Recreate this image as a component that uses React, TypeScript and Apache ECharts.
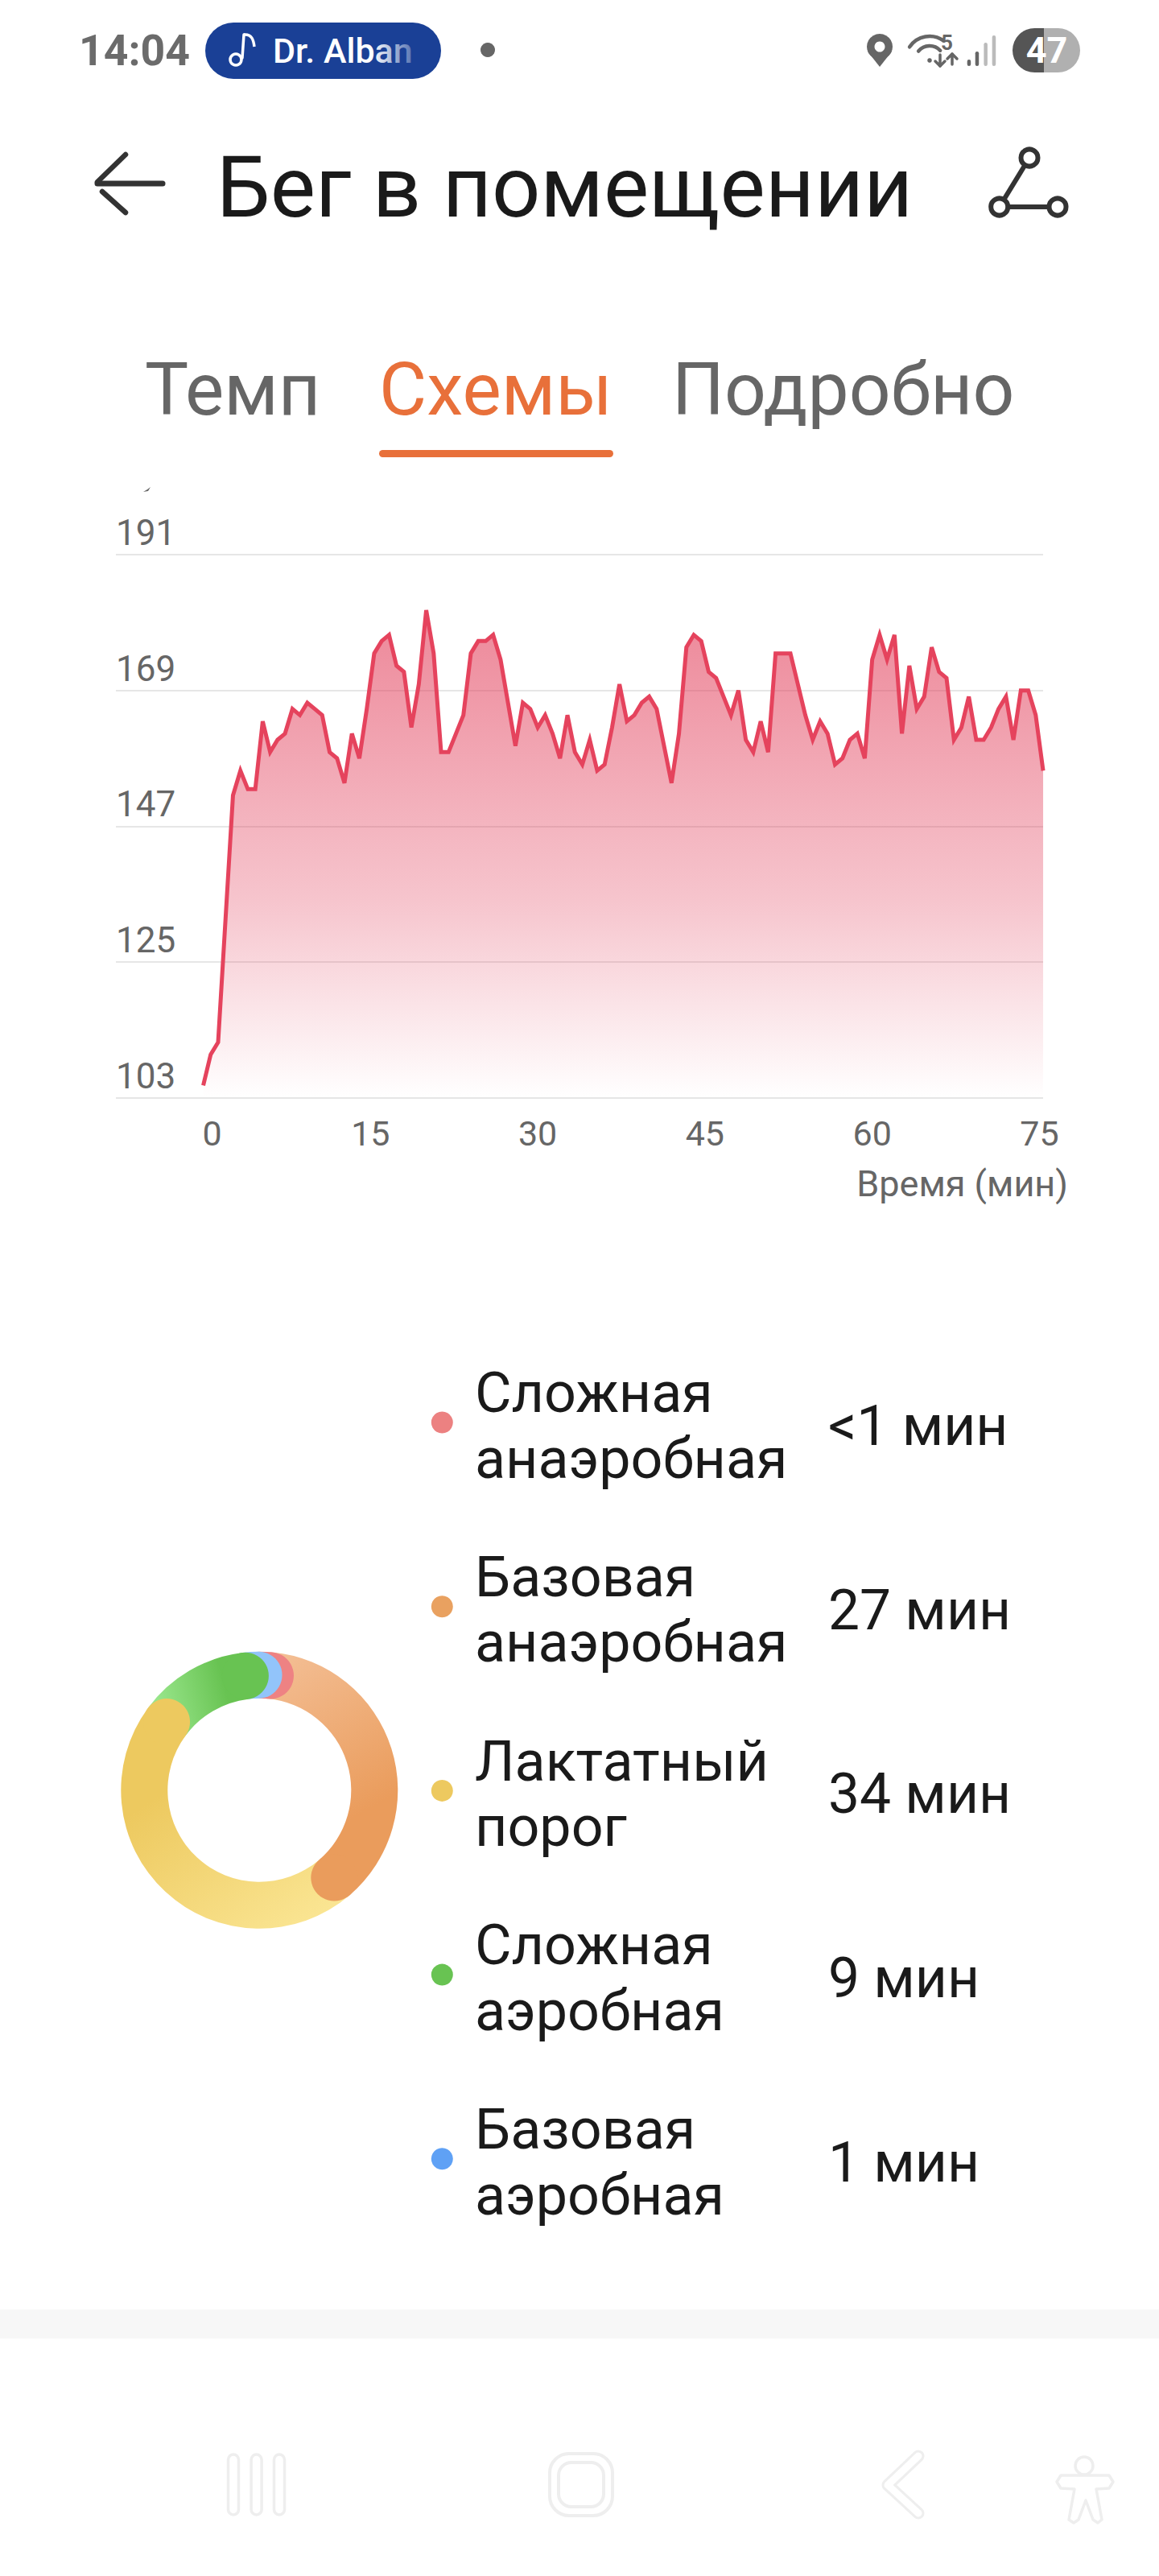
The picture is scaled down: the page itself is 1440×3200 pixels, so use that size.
import React, { useEffect, useRef } from "react";
import * as echarts from "echarts";

const heartRate = [
  105, 110, 112, 132, 152, 156, 153, 153, 164, 159, 161, 162, 166, 165, 167, 166, 165, 159, 158, 154,
  162, 158, 166, 175, 177, 178, 173, 172, 163, 170, 182, 175, 159, 159, 162, 165, 175, 177, 177, 178,
  174, 167, 160, 167, 166, 163, 165, 162, 158, 165, 159, 157, 161, 156, 157, 163, 170, 164, 165, 167,
  168, 166, 160, 154, 162, 176, 178, 177, 172, 171, 168, 165, 169, 161, 159, 164, 159, 175, 175, 175,
  170, 165, 161, 164, 162, 157, 158, 161, 162, 158, 174, 178, 174, 178, 162, 173, 166, 168, 176, 172,
  171, 161, 163, 168, 161, 161, 163, 166, 168, 161, 169, 169, 165, 156,
];
const sampleMinutes = 2 / 3;
const yTicks = [103, 125, 147, 169, 191];
const xTicks = [0, 15, 30, 45, 60, 75];

const zoneNames = ["Сложная\nанаэробная", "Базовая\nанаэробная", "Лактатный\nпорог", "Сложная\nаэробная", "Базовая\nаэробная"];
const zoneTimes = ["<1 мин", "27 мин", "34 мин", "9 мин", "1 мин"];
const zoneShare = [1.61, 37.2, 46.36, 12.97, 1.86];
const zoneDots = ["#EC8181", "#E9A160", "#EDC95F", "#68C352", "#5FA1F5"];
const zoneCapRank = [1, 5, 4, 3, 2];
const zoneFrom = ["#EE8283", "#F3BD92", "#FBE796", "#98E58A", "#92C4FA"];
const zoneTo = ["#EE8283", "#EA9C5C", "#EDC95F", "#68C352", "#92C4FA"];
const zoneDir = [[0, 0, 1, 0], [0.2, 0, 0.5, 1], [0.9, 1, 0.2, 0], [0.1, 0.6, 1, 0.4], [0, 0, 1, 0]];

const tabs = ["Темп", "Схемы", "Подробно"];
const FONT = "Roboto";

function txt(text: string, x: number, baseline: number, size: number, fill: string, weight = 400, align = "left") {
  return {
    type: "text", x, y: baseline - size * 0.34, silent: true,
    style: { text, fill, font: `${weight} ${size}px ${FONT}`, align, verticalAlign: "middle" },
  };
}
function rect(x: number, y: number, width: number, height: number, fill: any, r: any = 0, extra: any = {}) {
  return { type: "rect", silent: true, shape: { x, y, width, height, r }, style: { fill, ...extra } };
}
function circle(cx: number, cy: number, r: number, style: any) {
  return { type: "circle", silent: true, shape: { cx, cy, r }, style };
}
function stroke(points: number[][], color: string, width: number, fill: string | null = null) {
  return {
    type: fill ? "polygon" : "polyline", silent: true, shape: { points },
    style: { stroke: color, lineWidth: width, fill: fill || "none", lineCap: "round", lineJoin: "round" },
  };
}

function chrome() {
  const dark = "#333333";
  const gray = "#666666";
  const nav = "#EEEEEE";
  const els: any[] = [
    // status bar
    txt("14:04", 98, 81, 53.5, "#6B6B6B", 700),
    rect(255, 28, 293, 70, "#1A4096", 35),
    circle(293, 74, 7, { fill: "none", stroke: "#FFFFFF", lineWidth: 3.5 }),
    stroke([[301, 72], [303, 43]], "#FFFFFF", 3.5),
    { type: "bezierCurve", silent: true, shape: { x1: 303, y1: 43, x2: 316, y2: 58, cpx1: 313, cpy1: 42, cpx2: 315, cpy2: 50 }, style: { stroke: "#FFFFFF", lineWidth: 3.5, fill: "none" } },
    txt("Dr. Alban", 339, 78, 43, "#FFFFFF", 500),
    rect(462, 40, 56, 46, { type: "linear", x: 0, y: 0, x2: 1, y2: 0, colorStops: [{ offset: 0, color: "rgba(26,64,150,0)" }, { offset: 1, color: "rgba(26,64,150,0.8)" }] }),
    circle(606, 62, 9, { fill: gray }),
    // location pin
    circle(1093, 58, 16, { fill: gray }),
    { type: "polygon", silent: true, shape: { points: [[1078, 64], [1108, 64], [1093, 83]] }, style: { fill: gray } },
    circle(1093, 58, 6.5, { fill: "#FFFFFF" }),
    // wifi
    { type: "arc", silent: true, shape: { cx: 1155, cy: 75, r: 30, startAngle: -2.55, endAngle: -0.95, clockwise: true }, style: { stroke: gray, lineWidth: 4.5, fill: "none", lineCap: "round" } },
    { type: "arc", silent: true, shape: { cx: 1155, cy: 75, r: 18, startAngle: -2.45, endAngle: -0.75, clockwise: true }, style: { stroke: gray, lineWidth: 4.5, fill: "none", lineCap: "round" } },
    circle(1155, 75, 2.8, { fill: gray }),
    txt("5", 1169, 62, 26, gray, 700),
    stroke([[1168, 68], [1168, 82], [1162, 76]], gray, 3.5),
    stroke([[1168, 82], [1174, 76]], gray, 3.5),
    stroke([[1183, 80], [1183, 67], [1177, 73]], gray, 3.5),
    stroke([[1183, 67], [1189, 73]], gray, 3.5),
    // signal bars
    rect(1201.7, 74, 4.5, 8, gray, 2.2),
    rect(1211.7, 64, 4.5, 18, gray, 2.2),
    rect(1222.4, 53, 4.5, 29, "#BBBBBB", 2.2),
    rect(1232.7, 44, 4.5, 38, "#BBBBBB", 2.2),
    // battery
    rect(1258, 35, 39, 55, "#555555", [27.5, 0, 0, 27.5]),
    rect(1297, 35, 45, 55, "#B0B0B0", [0, 27.5, 27.5, 0]),
    txt("47", 1300.5, 78, 45, "#FFFFFF", 700, "center"),
    // header
    stroke([[121, 228], [202, 228]], dark, 7),
    stroke([[121, 226], [156, 192]], dark, 6.5),
    stroke([[127, 238], [156, 264]], dark, 6.5),
    txt("Бег в помещении", 269, 269, 106, "#1A1A1A"),
    stroke([[1279, 196], [1241.7, 257], [1314, 257]], dark, 6),
    circle(1279, 196, 10.5, { fill: "#FFFFFF", stroke: dark, lineWidth: 6 }),
    circle(1241.7, 257, 10.5, { fill: "#FFFFFF", stroke: dark, lineWidth: 6 }),
    circle(1314, 257, 10.5, { fill: "#FFFFFF", stroke: dark, lineWidth: 6 }),
    // tabs
    txt(tabs[0], 180, 515, 91, gray),
    txt(tabs[1], 471, 515, 91, "#E8703A"),
    txt(tabs[2], 835, 515, 91, gray),
    rect(471, 559, 291, 9, "#E8703A", 4.5),
    // clipped axis-title remnant
    { type: "polygon", silent: true, shape: { points: [[178, 611], [184, 610], [187, 605], [183, 608]] }, style: { fill: gray } },
    // bottom band and navigation bar
    rect(0, 2869, 1440, 36, "#F7F7F7"),
  ];
  [290, 318.6, 347].forEach((x) => els.push(rect(x - 6.5, 3049, 13, 75, "#FFFFFF", 6.5, { stroke: nav, lineWidth: 3.5 })));
  els.push(rect(683, 3048, 78, 77, "#FFFFFF", 24, { stroke: nav, lineWidth: 4 }));
  els.push(rect(694, 3059, 56, 55, "#FFFFFF", 16, { stroke: nav, lineWidth: 4 }));
  els.push(stroke([[1141, 3051], [1103, 3087], [1141, 3122]], nav, 15));
  els.push(stroke([[1141, 3051], [1103, 3087], [1141, 3122]], "#FFFFFF", 9));
  els.push({ type: "ellipse", silent: true, shape: { cx: 1347, cy: 3063, rx: 11, ry: 11 }, style: { fill: "#FFFFFF", stroke: nav, lineWidth: 3.5 } });
  els.push(stroke([[1318, 3075], [1378, 3075], [1383, 3083], [1378, 3091], [1362, 3092], [1369, 3130], [1364, 3134], [1358, 3130], [1349, 3106], [1340, 3130], [1334, 3134], [1328, 3130], [1335, 3092], [1318, 3091], [1313, 3083]], nav, 3.5, "#FFFFFF"));
  // zone legend
  zoneNames.forEach((name, i) => {
    const y = 1767 + 228.7 * i;
    els.push(circle(549.3, y, 13.5, { fill: zoneDots[i] }));
    els.push({
      type: "text", x: 590, y: y + 4, silent: true,
      style: { text: name, fill: "#1A1A1A", font: `400 70px ${FONT}`, lineHeight: 81.5, align: "left", verticalAlign: "middle" },
    });
    els.push(txt(zoneTimes[i], 1029, y + 28, 69.5, "#1A1A1A"));
  });
  return els;
}

const RING_IN = 114;
const RING_OUT = 172;

function renderZone(params: any, api: any) {
  const i = params.dataIndex;
  const { cx, cy } = params.coordSys;
  const mid = api.value(0);
  const begin = zoneShare.slice(0, i).reduce((a, b) => a + b, 0);
  const end = begin + api.value(1);
  const p0 = api.coord([mid, begin]);
  const p1 = api.coord([mid, end]);
  const a0 = Math.atan2(p0[1] - cy, p0[0] - cx);
  let a1 = Math.atan2(p1[1] - cy, p1[0] - cx);
  if (a1 < a0) a1 += Math.PI * 2;
  const [x, y, x2, y2] = zoneDir[i];
  return {
    type: "group",
    children: [
      {
        type: "sector", z2: 0,
        shape: { cx, cy, r: RING_OUT, r0: RING_IN, startAngle: a0, endAngle: a1, clockwise: true },
        style: { fill: { type: "linear", x, y, x2, y2, colorStops: [{ offset: 0, color: zoneFrom[i] }, { offset: 0.75, color: zoneTo[i] }, { offset: 1, color: zoneTo[i] }] } },
      },
      {
        type: "circle", z2: zoneCapRank[i],
        shape: { cx: p1[0], cy: p1[1], r: (RING_OUT - RING_IN) / 2 },
        style: { fill: zoneTo[i] },
      },
    ],
  };
}

export default function App() {
  const ref = useRef<HTMLDivElement>(null);
  useEffect(() => {
    const chart = echarts.init(ref.current!, null, { renderer: "svg" });
    const labelStyle = { fontFamily: FONT, fontSize: 43, color: "#666666" };
    chart.setOption({
      animation: false,
      backgroundColor: "#FFFFFF",
      grid: { left: 144, top: 689, width: 1152, height: 674.7, containLabel: false },
      xAxis: {
        type: "value", min: -7.835, max: 75.33,
        name: "Время (мин)", nameLocation: "end", nameGap: 31,
        nameTextStyle: { ...labelStyle, fontSize: 45, align: "right", verticalAlign: "top", padding: [84, 0, 0, 0] },
        axisLine: { show: false }, splitLine: { show: false },
        axisTick: { show: false, customValues: xTicks },
        axisLabel: {
          ...labelStyle, margin: 23, customValues: xTicks, hideOverlap: false,
          formatter: (v: number) => (v === 0 ? "{z|0}" : String(v)),
          rich: { z: { ...labelStyle, padding: [0, 0, 0, 22] } },
        },
      },
      yAxis: {
        type: "value", min: yTicks[0], max: yTicks[yTicks.length - 1],
        axisLine: { show: false },
        axisTick: { show: false, customValues: yTicks },
        splitLine: { show: true, lineStyle: { color: "#E6E6E6", width: 2 } },
        axisLabel: { ...labelStyle, fontSize: 44, customValues: yTicks, inside: true, margin: 0, align: "left", verticalAlign: "bottom", padding: [0, 0, 5, 0] },
      },
      polar: { center: [322.3, 2223.8], radius: RING_OUT },
      angleAxis: { type: "value", min: 0, max: 100, startAngle: 90.3, show: false },
      radiusAxis: { type: "value", min: 0, max: RING_OUT, show: false },
      graphic: { elements: chrome() },
      series: [
        {
          type: "line", data: heartRate.map((v, i) => [i * sampleMinutes, v]),
          showSymbol: false, symbol: "none",
          lineStyle: { color: "#E5435D", width: 5, join: "miter" },
          areaStyle: { opacity: 1, color: { type: "linear", x: 0, y: 0, x2: 0, y2: 1, colorStops: [{ offset: 0, color: "rgba(226,62,90,0.62)" }, { offset: 0.6, color: "rgba(226,62,90,0.3)" }, { offset: 1, color: "rgba(226,62,90,0)" }] } },
        },
        {
          type: "custom", coordinateSystem: "polar", clip: false,
          data: zoneShare.map((s) => [(RING_IN + RING_OUT) / 2, s]),
          encode: { radius: 0, angle: 1 },
          renderItem: renderZone,
        },
      ],
    });
    return () => chart.dispose();
  }, []);
  return <div ref={ref} style={{ position: "absolute", left: 0, top: 0, width: 1440, height: 3200 }} />;
}
